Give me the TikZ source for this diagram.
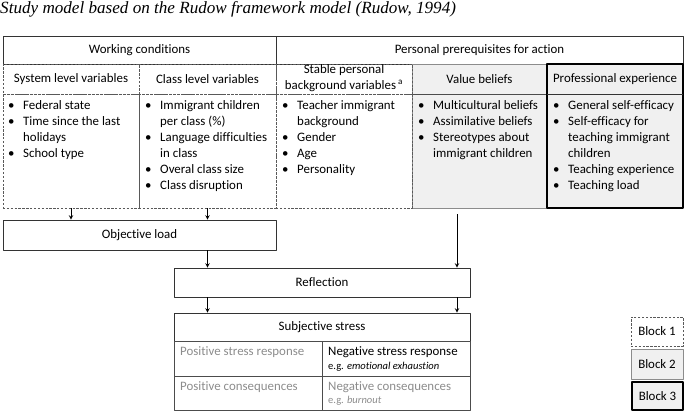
\documentclass[tikz,border=0pt]{standalone}
\usepackage{fontspec}
\setmainfont[Ligatures=NoCommon]{Carlito}
\newfontfamily\titlefont{Liberation Serif}
\usetikzlibrary{fit,arrows}
\definecolor{shade}{HTML}{F0F0F0}
\definecolor{softtext}{HTML}{8C8C8C}
\tikzset{
  cell/.style={inner sep=0pt, fit={#1}},
  blkone/.style={draw=black!65, dash pattern=on 2pt off 1.3pt, line width=0.6pt},
  blktwo/.style={draw=black!45, fill=shade, line width=0.6pt},
  blkthree/.style={draw=black, fill=shade, line width=1.6pt},
  plain/.style={draw=black!80, line width=0.6pt},
  items/.style={anchor=north west, inner sep=0pt, align=left},
  celltext/.style={anchor=west, inner sep=0pt},
  mid/.style={inner sep=0pt, align=center}
}
\newcommand{\bl}{\textbullet}
\newcommand{\itemlist}[1]{\begin{tabular}{@{}p{12.8pt}@{}l@{}}#1\end{tabular}}
\begin{document}
\begin{tikzpicture}[x=0.03cm,y=-0.03cm,>=stealth,line join=round,
  font=\fontsize{11}{13.6}\selectfont]
\useasboundingbox (0,0) rectangle (685,412);
\node[anchor=base west, inner sep=0pt, font=\titlefont\itshape\fontsize{14.6}{16}\selectfont] (title) at (0,13.5)
  {Study model based on the Rudow framework model (Rudow, 1994)};

% top headers
\node[plain, cell={(3,36)(276,64)}] (work) {};
\node[plain, cell={(276,36)(683,64)}] (pers) {};
\node[mid] (worktxt) at (work) {Working conditions};
\node[mid] (perstxt) at (pers) {Personal prerequisites for action};

% block 2 and 3 columns
\node[blktwo, cell={(412,64)(547,208)}] (valcol) {};
\node[cell={(412,64)(547,94)}] (valhead) {};
\draw[black!70, line width=0.5pt] (valhead.south west) -- (valhead.south east);
\node[blkthree, cell={(547,64)(683,208)}] (profcol) {};
\node[cell={(547,64)(683,94)}] (profhead) {};
\draw[black!80, line width=0.5pt] (profhead.south west) -- (profhead.south east);
\node[mid] (valtxt) at (valhead) {Value beliefs};
\node[mid] (proftxt) at (profhead) {Professional experience};

% block 1 columns
\node[blkone, cell={(3,64)(139,94)}] (syshead) {};
\node[blkone, cell={(139,64)(276,94)}] (clshead) {};
\node[blkone, cell={(276,64)(412,94)}] (stabhead) {};
\node[blkone, cell={(3,94)(139,208)}] (sysbody) {};
\node[blkone, cell={(139,94)(276,208)}] (clsbody) {};
\node[blkone, cell={(276,94)(412,208)}] (stabbody) {};
\node[mid] (systxt) at (syshead) {System level variables};
\node[mid] (clstxt) at (clshead) {Class level variables};
\node[mid, font=\fontsize{11}{13.4}\selectfont] (stabtxt) at ([yshift=0.5pt]stabhead)
  {Stable personal\\background variables\,\textsuperscript{a}};

% item lists
\node[items] (syslist) at (8,98) {\itemlist{\bl & Federal state\\ \bl & Time since the last\\ & holidays\\ \bl & School type}};
\node[items] (clslist) at (145,98) {\itemlist{\bl & Immigrant children\\ & per class (\%)\\ \bl & Language difficulties\\ & in class\\ \bl & Overal class size\\ \bl & Class disruption}};
\node[items] (stablist) at (282,98) {\itemlist{\bl & Teacher immigrant\\ & background\\ \bl & Gender\\ \bl & Age\\ \bl & Personality}};
\node[items] (vallist) at (418,98) {\itemlist{\bl & Multicultural beliefs\\ \bl & Assimilative beliefs\\ \bl & Stereotypes about\\ & immigrant children}};
\node[items] (proflist) at (553,98) {\itemlist{\bl & General self-efficacy\\ \bl & Self-efficacy for\\ & teaching immigrant\\ & children\\ \bl & Teaching experience\\ \bl & Teaching load}};

% process boxes
\node[plain, cell={(3,220)(276,250)}] (objload) {};
\node[plain, cell={(174,268)(470,297)}] (refl) {};
\node[plain, cell={(174,313)(470,341)}] (subj) {};
\node[mid] (objtxt) at (objload) {Objective load};
\node[mid] (refltxt) at (refl) {Reflection};
\node[mid] (subjtxt) at (subj) {Subjective stress};
\node[plain, draw=black!70, cell={(174,341)(322,376)}] (posresp) {};
\node[plain, draw=black!70, cell={(322,341)(470,376)}] (negresp) {};
\node[plain, draw=black!70, cell={(174,376)(322,410)}] (poscons) {};
\node[plain, draw=black!70, cell={(322,376)(470,410)}] (negcons) {};

\node[celltext, text=softtext] (posresptxt) at (180,352) {Positive stress response};
\node[celltext] (negresptxt) at (328,352) {Negative stress response};
\node[celltext, font=\fontsize{9}{11}\selectfont] (negrespeg) at (328,367) {e.g. \textit{emotional exhaustion}};
\node[celltext, text=softtext] (posconstxt) at (180,387) {Positive consequences};
\node[celltext, text=softtext] (negconstxt) at (328,387) {Negative consequences};
\node[celltext, text=softtext, font=\fontsize{9}{11}\selectfont] (negconseg) at (328,401) {e.g. \textit{burnout}};

% arrows
\coordinate (valfoot) at (457,214);
\draw[->, line width=0.7pt] (sysbody.south) -- (sysbody.south |- objload.north);
\draw[->, line width=0.7pt] (clsbody.south) -- (clsbody.south |- objload.north);
\draw[->, line width=0.7pt] (clsbody.south |- objload.south) -- (clsbody.south |- refl.north);
\draw[->, line width=0.7pt] (valfoot) -- (valfoot |- refl.north);
\draw[->, line width=0.7pt] (clsbody.south |- refl.south) -- (clsbody.south |- subj.north);
\draw[->, line width=0.7pt] (valfoot |- refl.south) -- (valfoot |- subj.north);

% legend
\node[blkone, cell={(631,317)(683,346)}] (blockone) {};
\node[blktwo, cell={(631,349)(683,379)}] (blocktwo) {};
\node[blkthree, cell={(632,382)(683,410)}] (blockthree) {};
\node[mid] (b1txt) at (blockone) {Block 1};
\node[mid] (b2txt) at (blocktwo) {Block 2};
\node[mid] (b3txt) at (blockthree) {Block 3};
\end{tikzpicture}
\end{document}
